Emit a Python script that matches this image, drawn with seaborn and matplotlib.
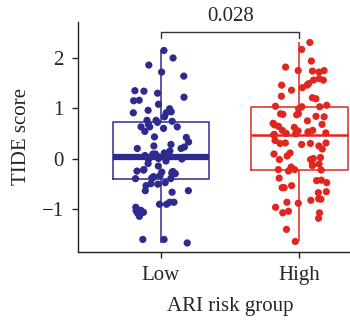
import numpy as np
import pandas as pd
import matplotlib
matplotlib.use("Agg")
import matplotlib.pyplot as plt
import seaborn as sns

groups = ["Low", "High"]
colors = ["#2E2A8E", "#E0271F"]
p_label = "0.028"

low_scores = [
    2.15, 2.0, 1.86, 1.72, 1.64, 1.22, 1.16, 1.34, 1.35, 1.30,
    1.15, 1.08, 0.99, 0.96, 0.93, 0.91, 0.91, 0.83, 0.76, 0.76,
    0.68, 0.74, 0.72, 0.63, 0.60, 0.63, 0.63, 0.54, 0.43, 0.42,
    0.33, 0.28, 0.23, 0.20, 0.25, 0.20, 0.15, 0.11, 0.09, 0.06,
    0.09, 0.03, 0.02, 0.01, 0.0, -0.01,
    -0.05, -0.02, -0.10, -0.15, -0.22, -0.23, -0.27, -0.25, -0.34, -0.38,
    -0.26, -0.30, -0.27, -0.30, -0.36, -0.40, -0.39, -0.48, -0.50, -0.51,
    -0.40, -0.54, -0.64, -0.64, -0.67, -0.87, -0.87, -0.91, -0.91, -0.97,
    -1.04, -1.07, -1.03, -1.09, -1.15, -1.61, -1.61, -1.68,
]
high_scores = [
    2.31, 2.17, 1.94, 1.82, 1.75, 1.72, 1.74, 1.75, 1.59, 1.56,
    1.49, 1.56, 1.46, 1.36, 1.41, 1.46, 1.24, 1.21, 1.19, 1.06,
    1.03, 1.03, 1.04, 0.99, 0.83, 0.84, 0.89, 0.87, 0.88, 0.89,
    0.67, 0.68, 0.75, 0.64, 0.62, 0.70, 0.56, 0.56, 0.53, 0.55,
    0.50, 0.51, 0.51, 0.49, 0.48, 0.47, 0.36, 0.31, 0.28, 0.25, 0.30, 0.31,
    0.30, 0.19, 0.11, 0.09, 0.02, 0.05, 0.0, -0.02, -0.02, -0.11,
    -0.14, -0.17, -0.13, -0.22, -0.25, -0.22, -0.23, -0.39, -0.43, -0.44,
    -0.48, -0.54, -0.58, -0.58, -0.68, -0.66, -0.83, -0.89, -0.87, -0.80,
    -0.81, -0.97, -1.08, -1.19, -1.08, -1.05, -1.41, -1.65,
]

df = pd.DataFrame({
    "group": ["Low"] * len(low_scores) + ["High"] * len(high_scores),
    "score": low_scores + high_scores,
})

sns.set_style("ticks")
plt.rcParams["font.family"] = ["Liberation Serif", "DejaVu Serif"]
np.random.seed(3)

fig = plt.figure(figsize=(3.5, 3.26), dpi=100)
# axes extends past the right edge of the figure (cropped like the reference)
ax = fig.add_axes([0.222, 0.227, 0.871, 0.706])

palette = dict(zip(groups, colors))
sns.boxplot(data=df, x="group", y="score", hue="group", order=groups,
            hue_order=groups, palette=palette, fill=False, width=0.7,
            showcaps=False, showfliers=False, linewidth=1.1, legend=False,
            ax=ax)

for patch in ax.patches:
    patch.set_alpha(0.8)
med_lines = [l for l in ax.lines if len(l.get_xdata()) == 2 and
             l.get_ydata()[0] == l.get_ydata()[1] and
             abs(l.get_xdata()[1] - l.get_xdata()[0]) > 0.5]

sns.stripplot(data=df, x="group", y="score", hue="group", order=groups,
              hue_order=groups, palette=palette, jitter=0.21, size=5.2,
              legend=False, ax=ax, zorder=3)

for l in med_lines:
    xm = np.mean(l.get_xdata())
    l.set_zorder(4)
    l.set_linewidth(4.5 if xm < 0.5 else 1.8)

ax.set_xlim(-0.602, 1.602)
ax.set_ylim(-1.86, 2.72)
ax.set_yticks([-1, 0, 1, 2])
ax.set_yticklabels(["\u22121", "0", "1", "2"])
ax.set_xlabel("ARI risk group", fontsize=15, labelpad=9)
ax.set_ylabel("TIDE score", fontsize=15, labelpad=8)
ax.tick_params(axis="both", labelsize=15, length=4, width=1, color="#222222")
ax.tick_params(axis="y", pad=6)
ax.tick_params(axis="x", pad=6)
sns.despine(ax=ax)
for s in ["left", "bottom"]:
    ax.spines[s].set_linewidth(1.0)
    ax.spines[s].set_color("#222222")

# significance bracket
yb, yt = 2.39, 2.52
ax.plot([0, 0, 1, 1], [yb, yt, yt, yb], color="#333333", lw=1.0,
        clip_on=False, zorder=5)
ax.text(0.5, 2.82, p_label, ha="center", va="center", fontsize=15,
        clip_on=False)

fig.savefig("out.png", dpi=100)
